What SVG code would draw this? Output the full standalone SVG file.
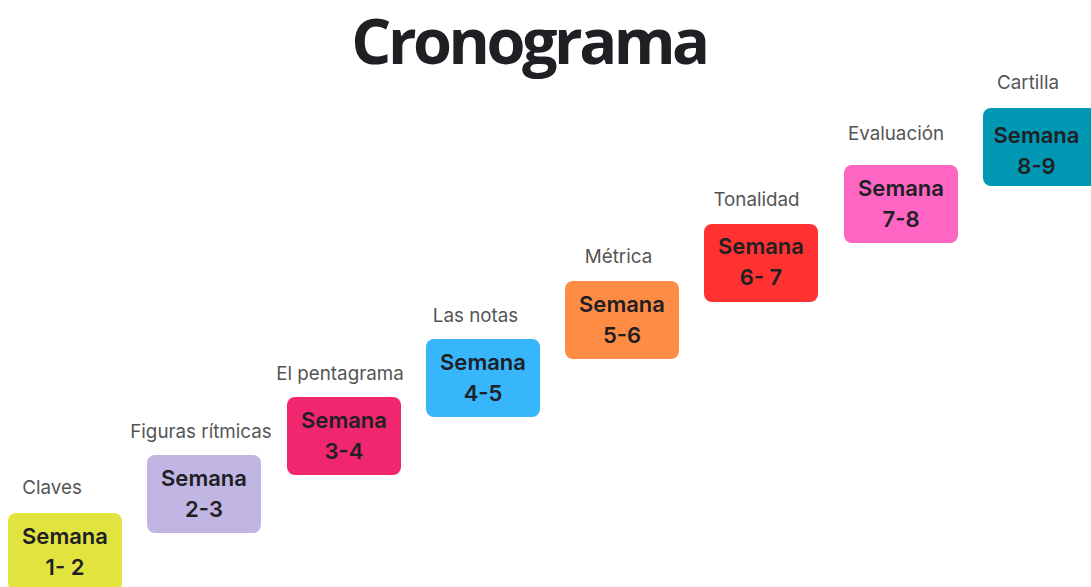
<svg xmlns="http://www.w3.org/2000/svg" width="1091" height="587" viewBox="0 0 1091 587">
<style>
.title{font-family:"Open Sans","Liberation Sans",sans-serif;font-weight:700;font-size:63px;fill:#202024;letter-spacing:-3.5px}
.box{stroke:none}
.nt{font-family:Inter,"Liberation Sans",sans-serif;font-weight:600;font-size:22px;fill:#202024;text-anchor:middle}
.lb{font-family:Inter,"Liberation Sans",sans-serif;font-weight:400;font-size:18.8px;fill:#555555;text-anchor:middle}
</style>
<rect width="1091" height="587" fill="#ffffff"/>
<text class="title" x="529" y="64" text-anchor="middle">Cronograma</text>
<g id="connectors"></g>
<g id="n1">
<rect class="box" x="8" y="513" width="114" height="78" rx="8" fill="#e1e43f"/>
<text class="nt" x="65" y="544">Semana</text>
<text class="nt" x="65" y="575">1- 2</text>
<text class="lb" x="52" y="494">Claves</text>
</g>
<g id="n2">
<rect class="box" x="147" y="455" width="114" height="78" rx="8" fill="#c0b5e3"/>
<text class="nt" x="204" y="486">Semana</text>
<text class="nt" x="204" y="517">2-3</text>
<text class="lb" x="201" y="438">Figuras rítmicas</text>
</g>
<g id="n3">
<rect class="box" x="287" y="397" width="114" height="78" rx="8" fill="#f0276e"/>
<text class="nt" x="344" y="428">Semana</text>
<text class="nt" x="344" y="459">3-4</text>
<text class="lb" x="340" y="380">El pentagrama</text>
</g>
<g id="n4">
<rect class="box" x="426" y="339" width="114" height="78" rx="8" fill="#37b6fb"/>
<text class="nt" x="483" y="370">Semana</text>
<text class="nt" x="483" y="401">4-5</text>
<text class="lb" x="475.5" y="322">Las notas</text>
</g>
<g id="n5">
<rect class="box" x="565" y="281" width="114" height="78" rx="8" fill="#ff8c45"/>
<text class="nt" x="622" y="312">Semana</text>
<text class="nt" x="622" y="343">5-6</text>
<text class="lb" x="618.5" y="263">Métrica</text>
</g>
<g id="n6">
<rect class="box" x="704" y="224" width="114" height="78" rx="8" fill="#ff3131"/>
<text class="nt" x="761" y="254">Semana</text>
<text class="nt" x="761" y="285">6- 7</text>
<text class="lb" x="756.5" y="206">Tonalidad</text>
</g>
<g id="n7">
<rect class="box" x="844" y="165" width="114" height="78" rx="8" fill="#ff66c4"/>
<text class="nt" x="901" y="196">Semana</text>
<text class="nt" x="901" y="227">7-8</text>
<text class="lb" x="896" y="140">Evaluación</text>
</g>
<g id="n8">
<rect class="box" x="983" y="108" width="114" height="78" rx="8" fill="#0097b2"/>
<text class="nt" x="1036.5" y="143">Semana</text>
<text class="nt" x="1036.5" y="174">8-9</text>
<text class="lb" x="1028" y="89">Cartilla</text>
</g>
</svg>
